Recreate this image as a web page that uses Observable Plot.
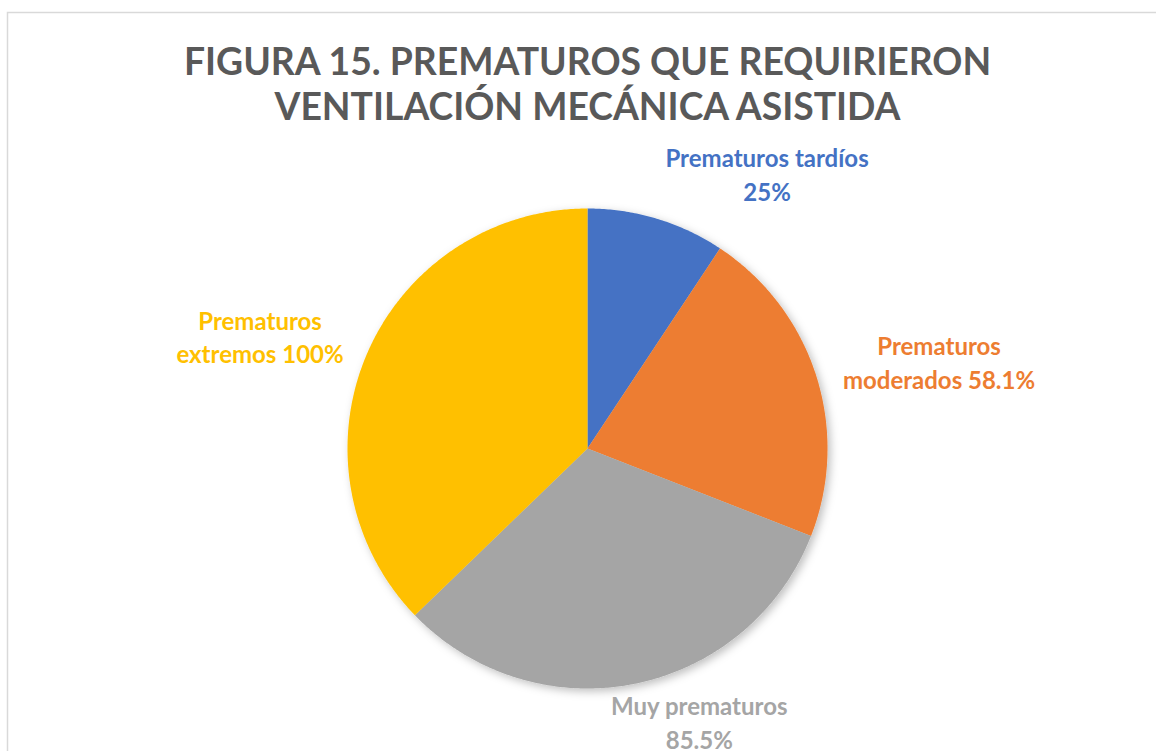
<!DOCTYPE html>
<html><head><meta charset="utf-8">
<script src="https://cdn.jsdelivr.net/npm/d3@7"></script>
<script src="https://cdn.jsdelivr.net/npm/@observablehq/plot@0.6"></script>
<style>body{margin:0;background:#fff;overflow:hidden}</style>
</head><body><div id="chart"></div>
<script>
const categories = ["Prematuros tardíos", "Prematuros moderados", "Muy prematuros", "Prematuros extremos"];
const values = [25, 58.1, 85.5, 100];
const labelText = ["Prematuros tardíos\n25%", "Prematuros\nmoderados 58.1%", "Muy prematuros\n85.5%", "Prematuros\nextremos 100%"];
const colors = ["#4472C4", "#ED7D31", "#A5A5A5", "#FFC000"];
const titleLines = ["FIGURA 15. PREMATUROS QUE REQUIRIERON", "VENTILACIÓN MECÁNICA ASISTIDA"];
// label layout: polar angle (deg clockwise from top) and distance in pie radii
const labelAngle = [33.1, 76.1, 157.7, 289.0];
const labelRadius = [1.37, 1.509, 1.2275, 1.443];

const arcs = d3.pie().sort(null).value(d => d)(values);
const slicePts = [];
arcs.forEach((a, i) => {
  slicePts.push({cat: categories[i], x: 0, y: 0});
  const n = Math.max(2, Math.ceil((a.endAngle - a.startAngle) / (Math.PI / 360)));
  for (let k = 0; k <= n; k++) {
    const t = a.startAngle + (a.endAngle - a.startAngle) * k / n;
    slicePts.push({cat: categories[i], x: Math.sin(t), y: Math.cos(t)});
  }
});
const labels = categories.map((c, i) => {
  const t = labelAngle[i] * Math.PI / 180;
  return {cat: c, text: labelText[i], x: labelRadius[i] * Math.sin(t), y: labelRadius[i] * Math.cos(t), color: colors[i]};
});

const font = "Lato, 'Open Sans', sans-serif";
const plot = Plot.plot({
  width: 1156, height: 751,
  margin: 0,
  style: {fontFamily: font, background: "#fff"},
  x: {domain: [-1, 1], range: [347, 827], axis: null},
  y: {domain: [-1, 1], range: [688, 208], axis: null},
  color: {domain: categories, range: colors},
  marks: [
    Plot.frame({stroke: "#d9d9d9", strokeWidth: 1.5, insetLeft: 7, insetTop: 12, insetRight: -10, insetBottom: -10}),
    Plot.line(slicePts, {x: "x", y: "y", z: "cat", fill: "cat", stroke: "none", curve: "linear-closed"}),
    Plot.text(labels, {x: "x", y: "y", text: "text", fill: d => d.color, fontSize: 24, fontWeight: "bold", lineAnchor: "middle", lineHeight: 1.4}),
    Plot.text([titleLines.join("\n")], {frameAnchor: "top", dx: 9, dy: 43, lineAnchor: "top", text: d => d, fill: "#595959", fontSize: 37.3, fontWeight: "bold", lineHeight: 1.2})
  ]
});
// soft drop shadow like the original
const svg = d3.select(plot);
svg.insert("defs", ":first-child").html('<filter id="sh" x="-20%" y="-20%" width="140%" height="140%"><feDropShadow dx="3" dy="3" stdDeviation="4" flood-color="#000" flood-opacity="0.25"/></filter>');
svg.selectAll("g[aria-label='line']").attr("filter", "url(#sh)");
document.getElementById("chart").appendChild(plot);
</script>
</body></html>
